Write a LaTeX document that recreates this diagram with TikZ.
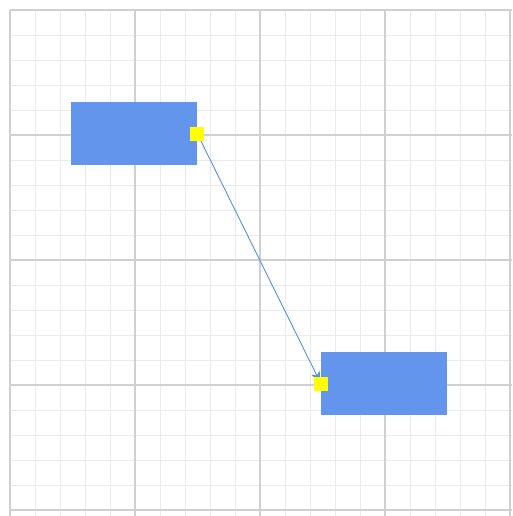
\documentclass[tikz,border=0pt]{standalone}
\usetikzlibrary{arrows.meta}
\definecolor{boxblue}{HTML}{6495ED}
\definecolor{linkblue}{HTML}{5B8FDC}
\definecolor{minorgrid}{HTML}{EBEBEB}
\definecolor{majorgrid}{HTML}{D0D0D0}
\definecolor{porty}{HTML}{FFFF00}
\tikzset{
  box/.style={fill=boxblue, draw=none, minimum width=126pt, minimum height=63pt, inner sep=0pt},
  port/.style={fill=porty, draw=none, minimum width=14pt, minimum height=14pt, inner sep=0pt},
  link/.style={draw=linkblue, line width=0.9pt, -{Stealth[length=12pt,width=9pt,inset=3pt]}},
  minorline/.style={draw=minorgrid, line width=0.8pt},
  majorline/.style={draw=majorgrid, line width=1.2pt}
}
\begin{document}
\begin{tikzpicture}[x=1pt,y=-1pt]
\useasboundingbox (0,0) rectangle (512,516);
\fill[white] (0,0) rectangle (512,516);
\begin{scope}
\clip (0,0) rectangle (512,516);
\foreach \k in {0,...,20}{
  \pgfmathsetmacro{\p}{10+25*\k}
  \draw[minorline] (\p,10) -- (\p,516);
  \draw[minorline] (10,\p) -- (512,\p);
}
\foreach \k in {0,...,4}{
  \pgfmathsetmacro{\p}{10+125*\k}
  \draw[majorline] (\p,10) -- (\p,516);
  \draw[majorline] (10,\p) -- (512,\p);
}
\end{scope}
\node[box] (a) at (134,133.5) {};
\node[box] (b) at (384,383.5) {};
\coordinate (pa) at (a.east);
\coordinate (pb) at (b.west);
\draw[link] (pa) -- (pb);
\node[port] (qa) at (pa) {};
\node[port] (qb) at (pb) {};
\end{tikzpicture}
\end{document}
